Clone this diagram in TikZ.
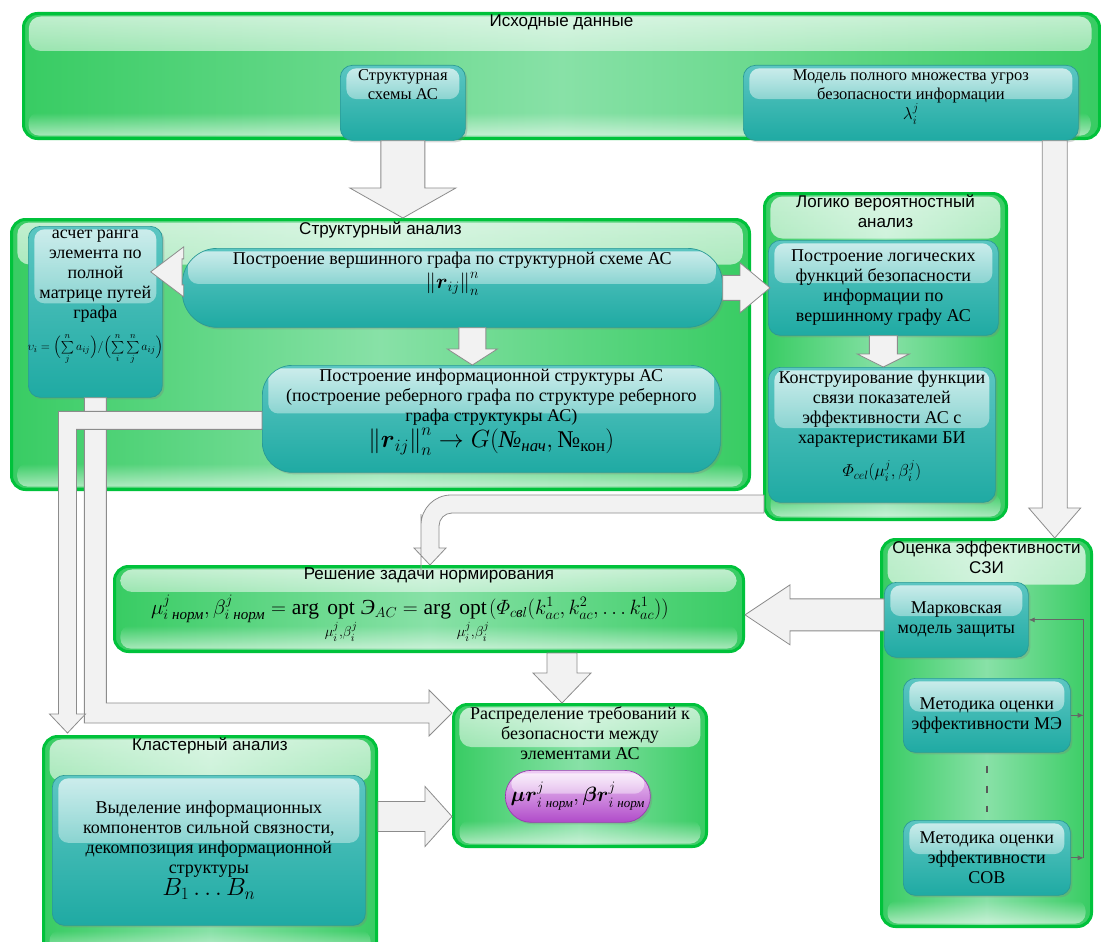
\documentclass[tikz,border=0pt]{standalone}
\usepackage{amsmath,amssymb}
\usepackage{fontspec}
\setmainfont{Liberation Serif}
\setsansfont{Liberation Sans}
\newfontfamily\tnr{Liberation Serif}
\usetikzlibrary{calc,positioning,shadows,fadings,arrows.meta}
\definecolor{zel}{HTML}{00C23B}
\definecolor{zelA}{HTML}{38CC63}
\definecolor{zelB}{HTML}{88E1A7}
\definecolor{biruzA}{HTML}{5CC6C2}
\definecolor{biruzC}{HTML}{1FAAA3}
\definecolor{biruzR}{HTML}{2A9A95}
\definecolor{sirA}{HTML}{EFCDF5}
\definecolor{sirB}{HTML}{B04BC9}
\definecolor{sirR}{HTML}{9A3AB0}
\definecolor{strel}{HTML}{8C8C8C}
% glossy band on top / at the bottom of a box
\newcommand\blesk[3]{%
  \fill[white, fill opacity=0.7, path fading=south, rounded corners=#3]
    let \p1=(path picture bounding box.north west), \p2=(path picture bounding box.south east)
    in ({\x1+6pt},{\y1-3pt}) rectangle ({\x2-6pt},{\y1-min(#1*((\y1)-(\y2)),#2)});}
\newcommand\donblesk{%
  \fill[white, fill opacity=0.55, path fading=north, rounded corners=10pt]
    let \p1=(path picture bounding box.north west), \p2=(path picture bounding box.south east)
    in ({\x1+6pt},{\y2+3pt}) rectangle ({\x2-6pt},{\y2+26pt});}
% block arrow: from, to, shaft half width, head half width, head length
\newcommand\blkarrow[5]{%
  \coordinate (blkh) at ($(#2)!#5!(#1)$);
  \draw[blk] ($(#1)!#3!90:(#2)$) -- ($(blkh)!#3!90:(#2)$) -- ($(blkh)!#4!90:(#2)$) -- (#2)
    -- ($(blkh)!#4!-90:(#2)$) -- ($(blkh)!#3!-90:(#2)$) -- ($(#1)!#3!-90:(#2)$) -- cycle;}

\begin{document}
\begin{tikzpicture}[x=1pt,y=1pt,
  panel/.style={draw=zel, line width=3pt, rounded corners=14pt, left color=zelA, right color=zelA, middle color=zelB, anchor=north west, inner sep=0pt, path picture={\blesk{0.3}{45pt}{12pt}\donblesk}},
  zag/.style={font=\sffamily\fontsize{17}{20}\selectfont, inner sep=1pt, align=center},
  blok/.style={draw=biruzR, line width=0.7pt, rounded corners=12pt, top color=biruzA, bottom color=biruzC, anchor=north west, align=center, inner sep=3pt, font=\tnr\fontsize{18}{20}\selectfont, drop shadow={opacity=0.3, shadow xshift=2pt, shadow yshift=-2pt}, path picture={\blesk{0.45}{80pt}{10pt}}},
  pilula/.style={blok, draw=sirR, top color=sirA, bottom color=sirB, rounded corners=26pt},
  blk/.style={draw=strel, line width=0.8pt, fill=black!5, line join=miter},
  tonk/.style={draw=black!60, line width=0.8pt, -{Latex[length=6pt,width=5pt]}},
  punkt/.style={draw=black!65, line width=2.5pt, dash pattern=on 7pt off 13pt}]
  \useasboundingbox (0,0) rectangle (1101,-942);
  % panels
  \node[panel, minimum width=1076pt, minimum height=125pt] (isx) at (22,-12) {};
  \node[panel, minimum width=738pt, minimum height=270pt] (stan) at (10,-218) {};
  \node[panel, minimum width=242pt, minimum height=326pt] (lva) at (763,-192) {};
  \node[panel, minimum width=629pt, minimum height=85pt] (norm) at (113,-565) {};
  \node[panel, minimum width=253pt, minimum height=142pt] (dist) at (452,-703) {};
  \node[panel, minimum width=333pt, minimum height=220pt] (clu) at (42,-735) {};
  \node[panel, minimum width=210pt, minimum height=387pt] (szi) at (880,-538) {};
  % titles
  \node[zag, below=2pt of isx.north] (isxT) {Исходные данные};
  \node[zag, below=3pt of stan.north] (stanT) {Структурный анализ};
  \node[zag, below=2pt of lva.north] (lvaT) {Логико вероятностный\\анализ};
  \node[zag, below=2pt of norm.north] (normT) {Решение задачи нормирования};
  \node[zag, below=2pt of clu.north] (cluT) {Кластерный анализ};
  \node[zag, below=2pt of szi.north] (sziT) {Оценка эффективности\\СЗИ};
  \node[zag, font=\tnr\fontsize{18}{20}\selectfont, below=2pt of dist.north] (distT) {Распределение требований к\\безопасности между\\элементами АС};
  % boxes
  \node[blok, minimum width=125pt, minimum height=75pt] (sch) at (340,-65)
    {\parbox[c][67pt][t]{118pt}{\centering\fontsize{16.5}{19}\selectfont Структурная\\схемы АС}};
  \node[blok, minimum width=335pt, minimum height=75pt] (mod) at (743,-65)
    {\parbox[c][67pt][t]{325pt}{\centering\fontsize{16.5}{19}\selectfont Модель полного множества угроз\\безопасности информации\\$\lambda_i^j$}};
  \node[blok, minimum width=134pt, minimum height=171pt] (rank) at (28,-226)
    {\parbox[c][163pt][t]{128pt}{\centering асчет ранга\\элемента по\\полной\\матрице путей\\графа\\[10pt]
     \makebox[128pt]{\fontsize{12.5}{14}\selectfont$\upsilon_i=\Bigl(\sum\limits_j^n a_{ij}\Bigr)/\Bigl(\sum\limits_i^n\sum\limits_j^n a_{ij}\Bigr)$}}};
  \node[blok, rounded corners=35pt, minimum width=540pt, minimum height=79pt] (vg) at (182,-248)
    {\parbox[c][71pt][t]{520pt}{\centering Построение вершинного графа по структурной схеме АС\\[2pt]
     \fontsize{20}{22}\selectfont$\left\|\boldsymbol{r}_{ij}\right\|_n^n$}};
  \node[blok, rounded corners=30pt, minimum width=458pt, minimum height=107pt] (inf) at (262,-365)
    {\parbox[c][99pt][t]{450pt}{\centering Построение информационной структуры АС\\(построение реберного графа по структуре реберного\\графа структукры АС)\\
     \fontsize{24}{26}\selectfont$\left\|\boldsymbol{r}_{ij}\right\|_n^n\rightarrow G(\text{\itshape №}_{\text{\itshape нач}},\text{№}_{\text{кон}})$}};
  \node[blok, minimum width=230pt, minimum height=95pt] (lf) at (768,-240)
    {Построение логических\\функций безопасности\\информации по\\вершинному графу АС};
  \node[blok, minimum width=227pt, minimum height=135pt] (kf) at (768,-367)
    {\parbox[c][127pt][t]{220pt}{\centering Конструирование функции\\связи показателей\\эффективности АС с\\характеристиками БИ\\[12pt]
     \fontsize{17}{19}\selectfont$\varPhi_{cel}(\mu_i^j,\beta_i^j)$}};
  \node[blok, minimum width=313pt, minimum height=150pt] (vyd) at (52,-775)
    {Выделение информационных\\компонентов сильной связности,\\декомпозиция информационной\\структуры\\
     \fontsize{24}{26}\selectfont$B_1\ldots B_n$};
  \node[blok, minimum width=144pt, minimum height=75pt] (mark) at (884,-582) {Марковская\\модель защиты};
  \node[blok, minimum width=167pt, minimum height=74pt] (mme) at (903,-678) {Методика оценки\\эффективности МЭ};
  \node[blok, minimum width=167pt, minimum height=75pt] (msov) at (903,-820) {Методика оценки\\эффективности\\СОВ};
  \node[pilula, minimum width=145pt, minimum height=52pt] (pp) at (505,-770)
    {\fontsize{20}{22}\selectfont$\boldsymbol{\mu r}^j_{i\;\text{\normalfont\itshape\fontsize{13}{14}\selectfont норм}},\boldsymbol{\beta r}^j_{i\;\text{\normalfont\itshape\fontsize{13}{14}\selectfont норм}}$};
  % formula of the normalization task
  \node[inner sep=0pt, font=\tnr\fontsize{21.5}{24}\selectfont] (normF) at (410,-619)
    {$\mu^j_{i\;\text{\itshape норм}},\beta^j_{i\;\text{\itshape норм}}=\mathrm{arg}\;\underset{\mu_i^j,\beta_i^j}{\mathrm{opt}}\,\text{\itshape Э}_{AC}=\mathrm{arg}\;\underset{\mu_i^j,\beta_i^j}{\mathrm{opt}}(\varPhi_{c\text{\itshape в}l}(k^1_{ac},k^2_{ac},\ldots k^1_{ac}))$};
  % block arrows
  \coordinate (s1) at (sch.south); \coordinate (t1) at (s1 |- stan.north);
  \blkarrow{s1}{t1}{22pt}{53pt}{30pt}
  \coordinate (s2) at ($(vg.west)+(0,16)$); \coordinate (t2) at ($(rank.east |- s2)+(-12,0)$);
  \blkarrow{s2}{t2}{13pt}{25pt}{33pt}
  \coordinate (s3) at (vg.east); \coordinate (t3) at ($(lf.west)+(2,0)$);
  \blkarrow{s3}{t3}{12.5pt}{25pt}{30pt}
  \coordinate (s4) at ($(vg.south)+(20,0)$); \coordinate (t4) at (s4 |- inf.north);
  \blkarrow{s4}{t4}{13.5pt}{25pt}{16pt}
  \coordinate (s5) at (lf.south); \coordinate (t5) at (s5 |- kf.north);
  \blkarrow{s5}{t5}{14pt}{26pt}{13pt}
  \coordinate (s6) at ($(mark.west)+(0,5)$); \coordinate (t6) at (norm.east |- s6);
  \blkarrow{s6}{t6}{16pt}{30pt}{45pt}
  \coordinate (s7) at ($(norm.south)+(133,0)$); \coordinate (t7) at (s7 |- dist.north);
  \blkarrow{s7}{t7}{15pt}{29pt}{30pt}
  \coordinate (s8) at ($(clu.east)+(0,30)$); \coordinate (t8) at (dist.west |- s8);
  \blkarrow{s8}{t8}{15pt}{30pt}{27pt}
  \coordinate (s9) at ($(mod.south east)+(-24,0)$); \coordinate (t9) at (s9 |- szi.north);
  \blkarrow{s9}{t9}{12.5pt}{26pt}{30pt}
  % rank -> distribution
  \coordinate (sB) at (rank.south); \coordinate (tB) at ($(dist.north west)+(0,-10)$);
  \draw[blk] let \p1=(sB), \p2=(tB) in (\x1-11pt,\y1) -- (\x1-11pt,\y2-10pt) -- (\x2-23pt,\y2-10pt) -- (\x2-23pt,\y2-23pt)
    -- (\x2,\y2) -- (\x2-23pt,\y2+23pt) -- (\x2-23pt,\y2+10pt) -- (\x1+11pt,\y2+10pt) -- (\x1+11pt,\y1) -- cycle;
  % information structure -> cluster analysis
  \coordinate (sA) at ($(inf.west)+(0,-1.5)$); \coordinate (tA) at ($(clu.north west)+(25.5,2)$);
  \draw[blk] let \p1=(sA), \p2=(tA) in (\x1,\y1+9pt) -- (\x2-9pt,\y1+9pt) -- (\x2-9pt,\y2+19pt) -- (\x2-18pt,\y2+19pt)
    -- (\x2,\y2) -- (\x2+18pt,\y2+19pt) -- (\x2+9pt,\y2+19pt) -- (\x2+9pt,\y1-9pt) -- (\x1,\y1-9pt) -- cycle;
  % logic analysis -> normalization
  \coordinate (sC) at ($(lva.south west)+(1,17)$); \coordinate (tC) at ($(norm.north west)+(317,0)$);
  \draw[blk] let \p1=(sC), \p2=(tC) in (\x1,\y1+9pt) [rounded corners=30pt] -- (\x2-9pt,\y1+9pt) -- (\x2-9pt,\y1-40pt)
    [sharp corners] -- (\x2-9pt,\y2+17pt) -- (\x2-16pt,\y2+17pt) -- (\x2,\y2) -- (\x2+16pt,\y2+17pt) -- (\x2+9pt,\y2+17pt)
    -- (\x2+9pt,\y1-25pt) [rounded corners=13pt] -- (\x2+9pt,\y1-9pt) -- (\x2+40pt,\y1-9pt) [sharp corners] -- (\x1,\y1-9pt) -- cycle;
  % methods -> Markov model
  \coordinate (shina) at ($(mark.east)+(55,0)$);
  \foreach \b in {mme,msov}
    \draw[tonk] (\b.east) -- (\b.east -| shina);
  \draw[tonk] (msov.east -| shina) -- (shina) -- (mark.east);
  \draw[punkt] ($(mme.south)+(0,-13)$) -- ($(msov.north)+(0,8)$);
\end{tikzpicture}
\end{document}
